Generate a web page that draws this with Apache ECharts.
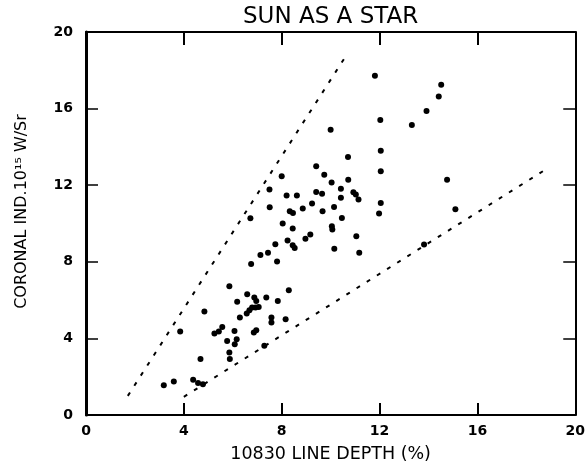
<!DOCTYPE html>
<html>
<head>
<meta charset="utf-8">
<script src="https://cdn.jsdelivr.net/npm/echarts@6/dist/echarts.min.js"></script>
<style>html,body{margin:0;padding:0;background:#fff}#c{width:588px;height:468px}</style>
</head>
<body>
<div id="c"></div>
<script>
const titleText = 'SUN AS A STAR';
const xTitle = '10830 LINE DEPTH (%)';
const yTitle = 'CORONAL IND.10\u00B9\u2075 W/Sr';
const xTicks = [0, 4, 8, 12, 16, 20];
const yTicks = [0, 4, 8, 12, 16, 20];

const depth = [3.18,3.59,4.38,4.58,4.78,4.68,4.84,3.85,5.86,6.75,7.13,7.44,7.81,6.18,6.59,6.88,6.96,7.37,7.84,6.68,6.79,6.93,7.06,6.57,6.29,5.57,5.43,5.25,6.07,6.16,6.08,5.77,5.86,5.88,6.86,6.96,7.58,7.58,7.29,8.29,8.16,10.71,9.41,9.74,8.0,10.04,10.72,10.42,9.41,9.65,10.42,10.93,11.03,11.14,7.5,8.2,8.62,7.51,8.33,8.46,8.86,9.24,9.67,10.14,10.46,6.72,8.04,8.45,10.05,10.07,11.05,9.17,8.97,8.24,8.45,8.53,7.74,10.15,11.17,11.81,14.52,14.42,13.92,13.32,12.03,10.0,12.05,12.05,14.76,12.05,11.98,15.1,13.82];
const coronal = [1.56,1.75,1.84,1.67,1.6,2.92,5.4,4.36,6.72,7.88,8.35,8.47,8.02,5.92,6.3,6.13,5.95,6.13,5.95,5.47,5.61,5.61,5.64,5.3,5.09,4.6,4.36,4.25,4.39,3.96,3.7,3.87,3.26,2.92,4.31,4.43,5.09,4.83,3.61,6.51,5.0,13.47,12.99,12.55,12.47,12.14,12.29,11.82,11.65,11.55,11.34,11.63,11.51,11.25,11.77,11.46,11.46,10.85,10.64,10.55,10.78,11.04,10.64,10.86,10.29,10.28,10.0,9.74,9.86,9.69,9.34,9.43,9.2,9.11,8.87,8.72,8.91,8.68,8.47,17.71,17.24,16.63,15.87,15.14,15.4,14.9,13.8,12.73,12.29,11.07,10.52,10.75,8.9];

const upperLineX = [1.71, 10.55];
const upperLineY = [1.0, 18.6];
const lowerLineX = [4.0, 18.95];
const lowerLineY = [0.95, 12.95];

const pts = depth.map((x, i) => [x, coronal[i]]);
const upper = upperLineX.map((x, i) => [x, upperLineY[i]]);
const lower = lowerLineX.map((x, i) => [x, lowerLineY[i]]);

const chart = echarts.init(document.getElementById('c'), null, {renderer: 'canvas'});
const axisFont = {fontFamily: 'DejaVu Sans', fontWeight: 'bold', fontSize: 14, color: '#000'};
chart.setOption({
  animation: false,
  backgroundColor: '#fff',
  title: {
    text: titleText, left: 238, top: 1,
    textStyle: {fontFamily: 'DejaVu Sans', fontWeight: 'normal', fontSize: 23, color: '#000'}
  },
  grid: {left: 86, right: 12, top: 32, bottom: 52, show: false},
  xAxis: [{
    type: 'value', min: 0, max: 20, interval: 4, position: 'bottom',
    name: xTitle, nameLocation: 'middle', nameGap: 30,
    nameTextStyle: {fontFamily: 'DejaVu Sans', fontSize: 17.5, color: '#000'},
    axisLine: {show: true, onZero: false, lineStyle: {color: '#000', width: 2}},
    axisTick: {show: true, inside: true, length: 12, lineStyle: {color: '#000', width: 2}},
    axisLabel: Object.assign({margin: 9}, axisFont),
    splitLine: {show: false}
  }, {
    type: 'value', min: 0, max: 20, interval: 4, position: 'top',
    axisLine: {show: true, onZero: false, lineStyle: {color: '#000', width: 2}},
    axisTick: {show: true, inside: true, length: 13, lineStyle: {color: '#000', width: 2}},
    axisLabel: {show: false}, splitLine: {show: false}
  }],
  yAxis: [{
    type: 'value', min: 0, max: 20, interval: 4, position: 'left',
    name: yTitle, nameLocation: 'middle', nameGap: 56,
    nameTextStyle: {fontFamily: 'DejaVu Sans', fontSize: 16, color: '#000', padding: [0, 0, 0, 24]},
    axisLine: {show: true, onZero: false, lineStyle: {color: '#000', width: 3}},
    axisTick: {show: true, inside: true, length: 12, lineStyle: {color: '#000', width: 1.5}},
    axisLabel: Object.assign({margin: 13}, axisFont),
    splitLine: {show: false}
  }, {
    type: 'value', min: 0, max: 20, interval: 4, position: 'right',
    axisLine: {show: true, onZero: false, lineStyle: {color: '#000', width: 2}},
    axisTick: {show: true, inside: true, length: 12, lineStyle: {color: '#000', width: 1.5}},
    axisLabel: {show: false}, splitLine: {show: false}
  }],
  series: [{
    type: 'scatter', data: pts, symbol: 'circle', symbolSize: 6,
    itemStyle: {color: '#000', opacity: 1}
  }, {
    type: 'line', data: upper, symbol: 'none',
    lineStyle: {color: '#000', width: 2, type: [4, 8]}
  }, {
    type: 'line', data: lower, symbol: 'none',
    lineStyle: {color: '#000', width: 2, type: [4, 8]}
  }]
});
</script>
</body>
</html>
